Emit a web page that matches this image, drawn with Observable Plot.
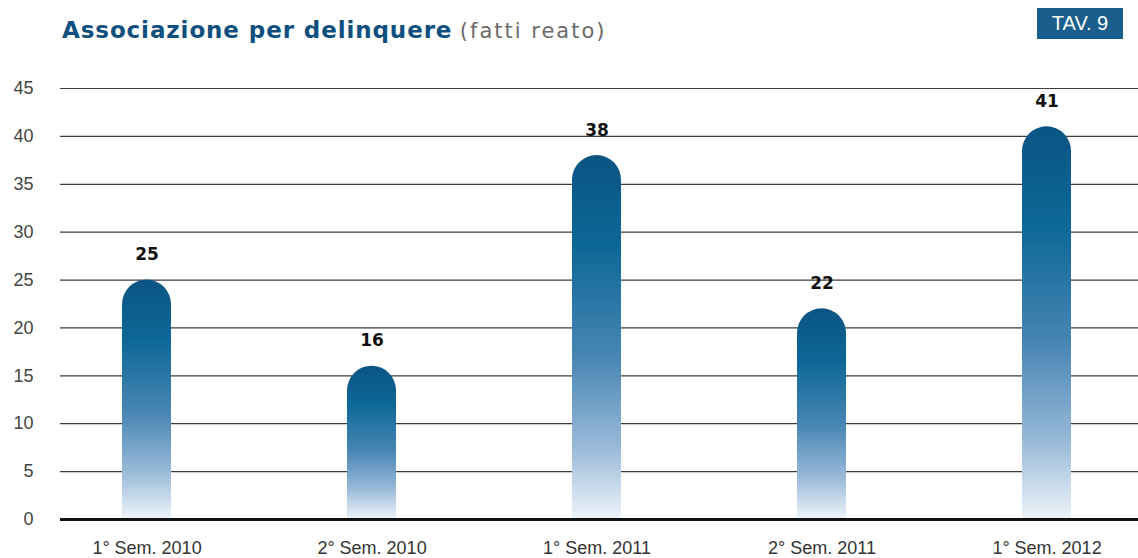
<!DOCTYPE html>
<html>
<head>
<meta charset="utf-8">
<script src="https://cdn.jsdelivr.net/npm/d3@7"></script>
<script src="https://cdn.jsdelivr.net/npm/@observablehq/plot@0.6"></script>
<style>
  html, body { margin: 0; padding: 0; background: #fff; }
  #wrap { position: relative; width: 1138px; height: 558px; font-family: "Liberation Sans", Arial, sans-serif; }
  #title { position: absolute; left: 62px; top: 17px; white-space: nowrap; }
  #title .main { font-family: "DejaVu Sans", sans-serif; font-size: 23px; font-weight: bold; color: #0d4f7f; letter-spacing: 0.9px; }
  #title .sub { font-family: "DejaVu Sans", sans-serif; font-size: 21px; color: #6a6a6a; letter-spacing: 2px; margin-left: 3px; }
  #tav { position: absolute; left: 1037px; top: 8px; width: 86px; height: 31px; background: #1a5e8d; color: #fff; font-size: 20px; line-height: 31px; text-align: center; }
  #chart { position: absolute; left: 0; top: 60px; }
</style>
</head>
<body>
<div id="wrap">
  <div id="title"><span class="main">Associazione per delinquere</span> <span class="sub">(fatti reato)</span></div>
  <div id="tav">TAV. 9</div>
  <div id="chart"></div>
</div>
<script>
const categories = ["1° Sem. 2010", "2° Sem. 2010", "1° Sem. 2011", "2° Sem. 2011", "1° Sem. 2012"];
const values = [25, 16, 38, 22, 41];
const yTicks = [0, 5, 10, 15, 20, 25, 30, 35, 40, 45];

const data = categories.map((c, i) => ({category: c, value: values[i]}));

const defs = () => {
  const d = d3.create("svg:defs");
  const g = d.append("linearGradient").attr("id", "barGrad").attr("x1", 0).attr("y1", 0).attr("x2", 0).attr("y2", 1);
  [["0%", "#0a5483"], ["25%", "#0d6897"], ["55%", "#4785b3"], ["80%", "#98b9d8"], ["100%", "#eef4fa"]]
    .forEach(([o, c]) => g.append("stop").attr("offset", o).attr("stop-color", c));
  return d.node();
};

const chart = Plot.plot({
  width: 1138,
  height: 498,
  marginTop: 28,
  marginBottom: 39,
  marginLeft: 60,
  marginRight: 0,
  style: {fontFamily: "Liberation Sans, Arial, sans-serif", fontSize: "18px", color: "#333", background: "transparent"},
  x: {domain: categories, range: [34.5, 1159.5], paddingInner: 0.782, paddingOuter: 0.391, align: 0.5, label: null},
  y: {domain: [0, 45], label: null},
  marks: [
    defs,
    Plot.ruleY(yTicks.filter(t => t > 0), {stroke: "#3c3c3c", strokeWidth: 1.2}),
    Plot.barY(data, {x: "category", y: "value", fill: "url(#barGrad)", ry1: 24.5}),
    Plot.ruleY([0], {stroke: "#111", strokeWidth: 3}),
    Plot.text(data, {x: "category", y: "value", text: d => String(d.value), dy: -20, lineAnchor: "bottom", fontSize: 17, fontWeight: "bold", fontFamily: "DejaVu Sans, sans-serif", fill: "#111"}),
    Plot.axisY({ticks: yTicks, tickSize: 0, tickPadding: 27, fontSize: 18, fill: "#444", label: null}),
    Plot.axisX({tickSize: 0, tickPadding: 22, fontSize: 18, fill: "#333", label: null, style: {letterSpacing: "0.6px"}})
  ]
});
document.getElementById("chart").appendChild(chart);
</script>
</body>
</html>
